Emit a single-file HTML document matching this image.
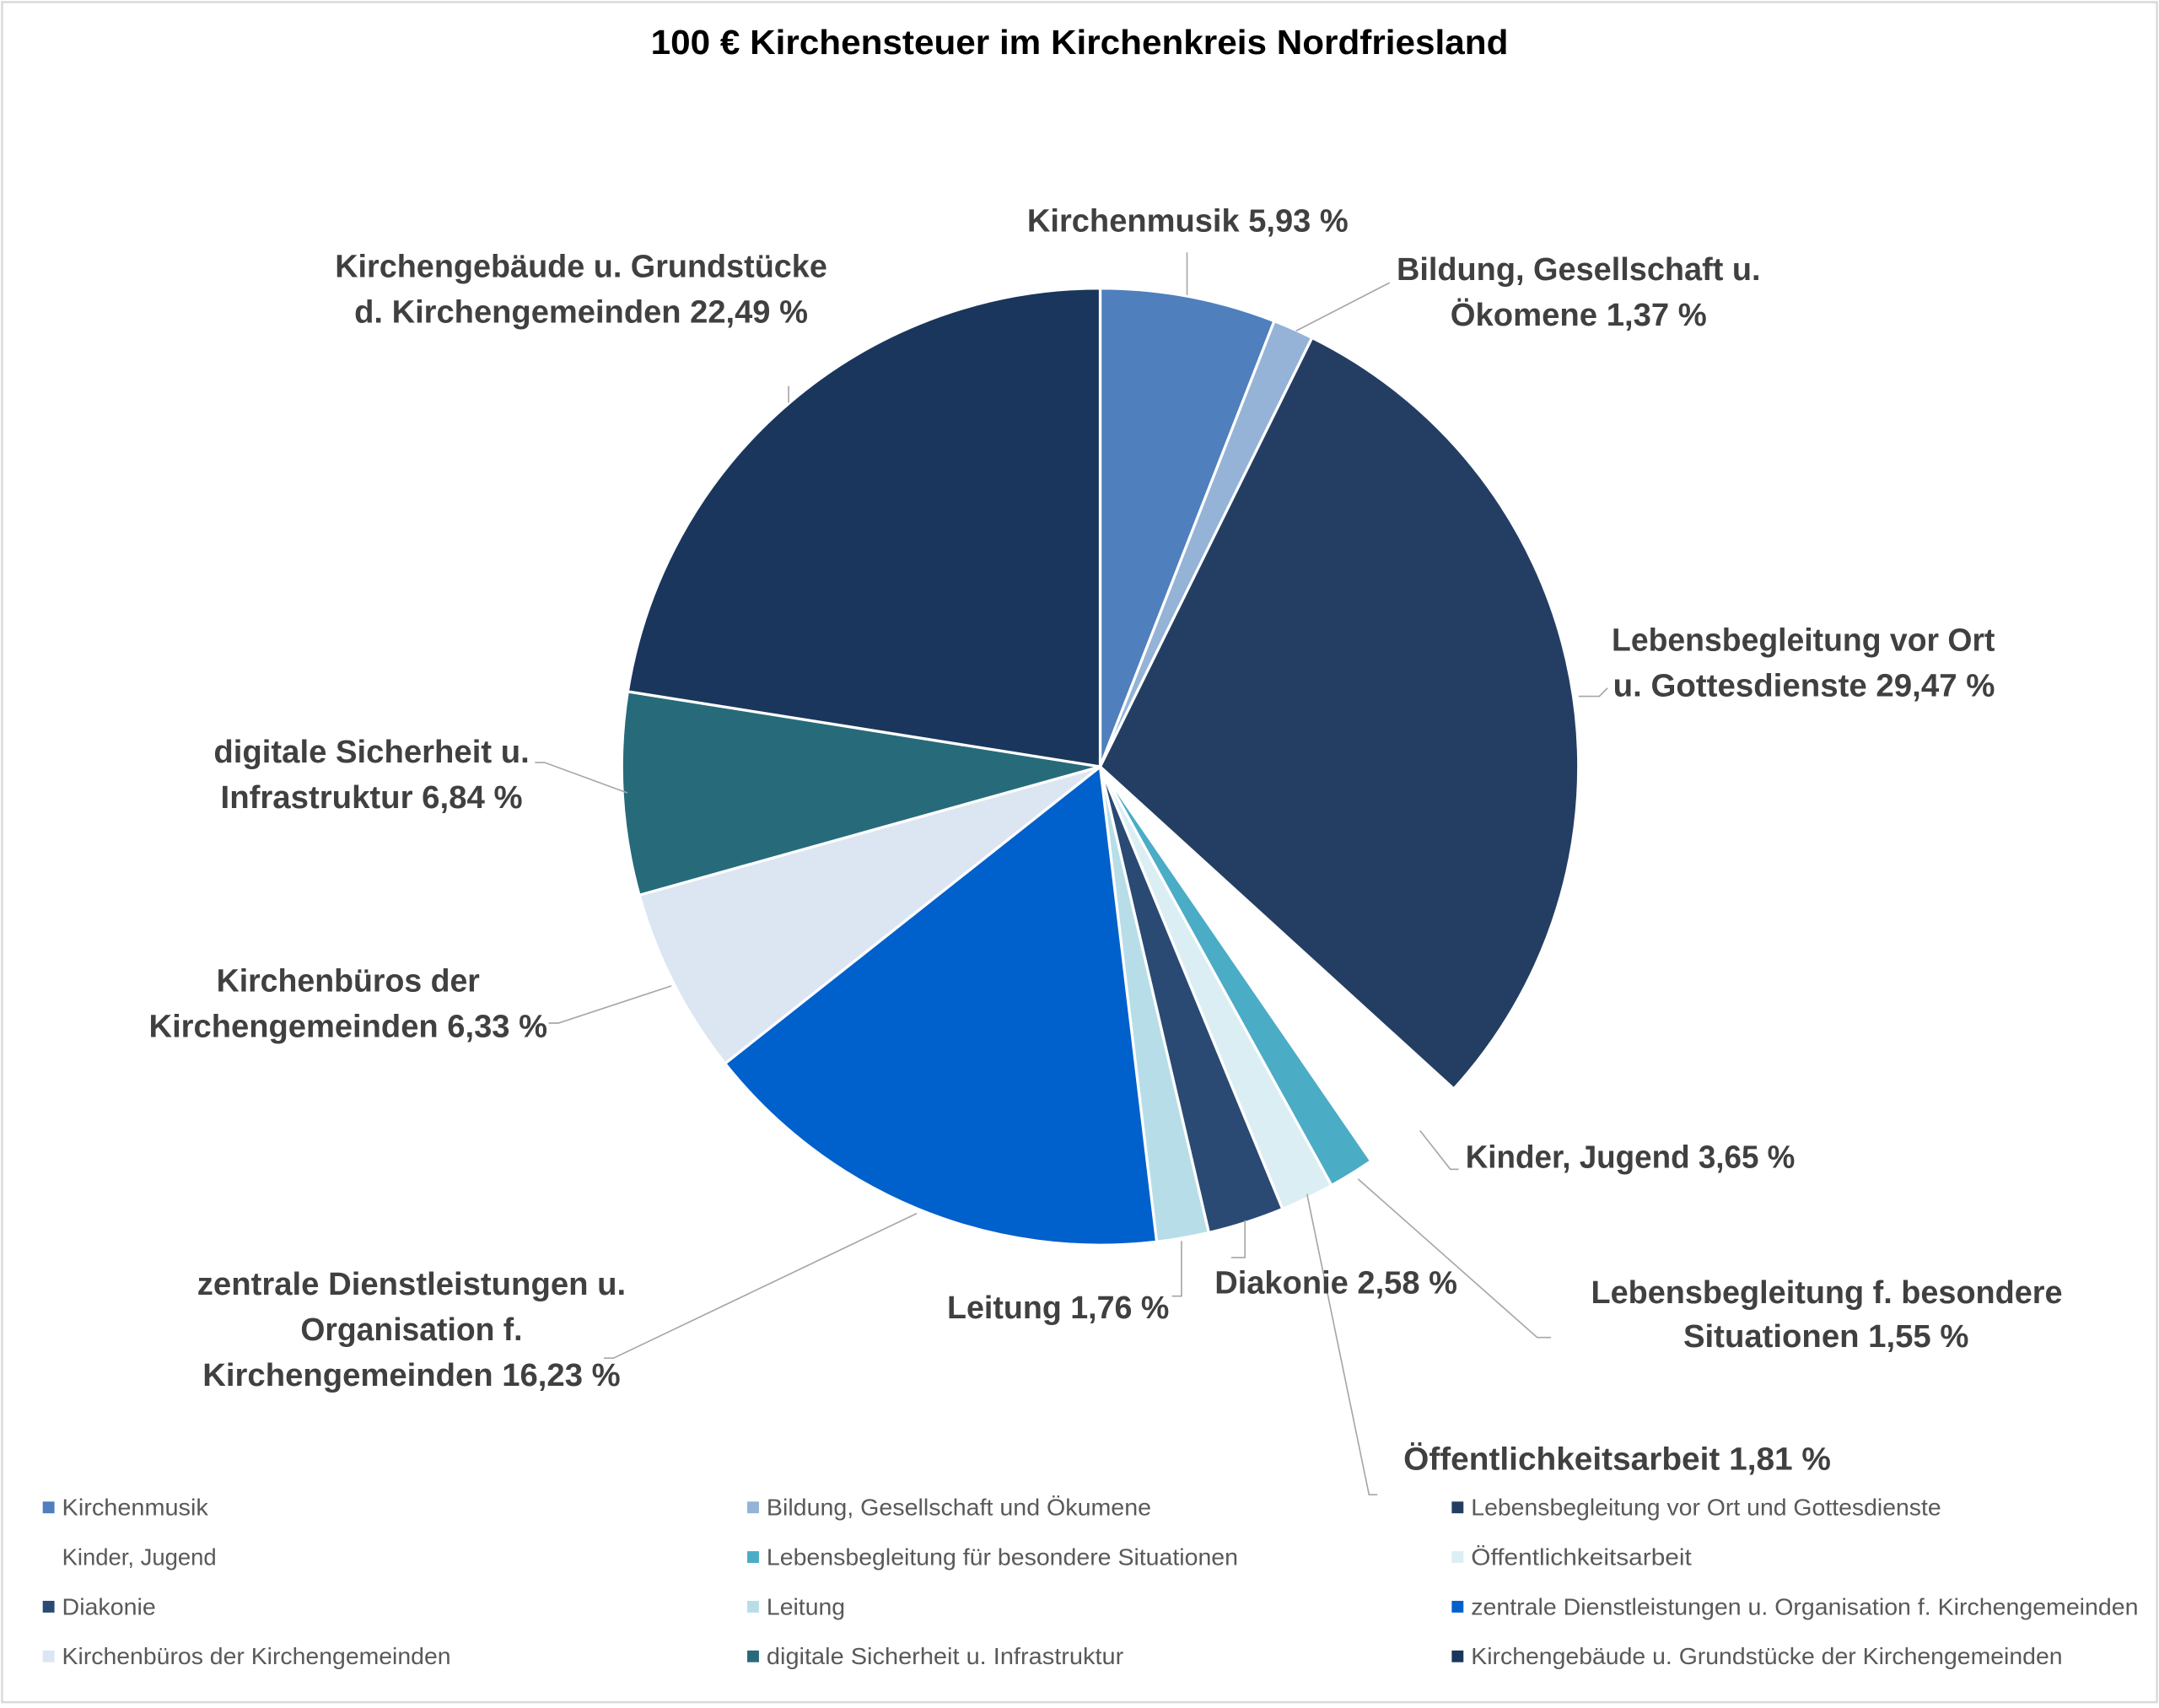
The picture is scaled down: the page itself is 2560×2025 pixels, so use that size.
<!DOCTYPE html>
<html><head><meta charset="utf-8"><style>
html,body{margin:0;padding:0;background:#fff;}
svg{display:block;}
text{font-family:"Liberation Sans Narrow","Liberation Sans",sans-serif;}
.l{font-size:23px;font-weight:bold;fill:#404040;}
.g{font-size:17px;fill:#595959;}
.ld{stroke:#a6a6a6;stroke-width:1;fill:none;}
.pie path{stroke:#fff;stroke-width:2;stroke-linejoin:round;}
</style></head><body>
<svg width="2560" height="2025" viewBox="0 0 1566 1238.7" xmlns="http://www.w3.org/2000/svg">
<rect x="1.5" y="1.5" width="1563" height="1233" fill="#fff" stroke="#d9d9d9" stroke-width="1.5"/>
<text x="783" y="39" text-anchor="middle" font-size="25" font-weight="bold" fill="#000" textLength="622" lengthAdjust="spacingAndGlyphs">100 € Kirchensteuer im Kirchenkreis Nordfriesland</text>
<g class="pie">
<path d="M798 556 L798 209 A347 347 0 0 1 924.3 232.8 Z" fill="#4f7fbd"/>
<path d="M798 556 L924.3 232.8 A347 347 0 0 1 951.7 244.9 Z" fill="#95b3d7"/>
<path d="M798 556 L951.7 244.9 A347 347 0 0 1 1054.5 789.7 Z" fill="#243e63"/>
<path d="M798 556 L994.5 842.0 A347 347 0 0 1 965.8 859.7 Z" fill="#4bacc6"/>
<path d="M798 556 L965.8 859.7 A347 347 0 0 1 930.3 876.8 Z" fill="#dbeef4"/>
<path d="M798 556 L930.3 876.8 A347 347 0 0 1 876.8 894.0 Z" fill="#2a4a73"/>
<path d="M798 556 L876.8 894.0 A347 347 0 0 1 839.0 900.6 Z" fill="#b7dee8"/>
<path d="M798 556 L839.0 900.6 A347 347 0 0 1 525.9 771.3 Z" fill="#0060cc"/>
<path d="M798 556 L525.9 771.3 A347 347 0 0 1 463.7 649.2 Z" fill="#dce6f2"/>
<path d="M798 556 L463.7 649.2 A347 347 0 0 1 455.3 501.5 Z" fill="#276b7b"/>
<path d="M798 556 L455.3 501.5 A347 347 0 0 1 798 209 Z" fill="#1a365d"/>
</g>
<g>
<path class="ld" d="M861 214 V183"/>
<path class="ld" d="M940 240 L1008 205"/>
<path class="ld" d="M1145 505 H1160 L1166 499"/>
<path class="ld" d="M1030 820 L1052 848 H1058"/>
<path class="ld" d="M985 855 L1115 970 H1125"/>
<path class="ld" d="M948 866 L993 1084 H999"/>
<path class="ld" d="M903 885 V912 H893"/>
<path class="ld" d="M857 900 V940 H850"/>
<path class="ld" d="M665 880 L445 985 H438"/>
<path class="ld" d="M487 715 L405 742 H398"/>
<path class="ld" d="M455 575 L395 553 H388"/>
<path class="ld" d="M572 292 V280"/>
</g>
<g class="l">
<text x="745" y="168" textLength="233" lengthAdjust="spacingAndGlyphs">Kirchenmusik 5,93 %</text>
<text x="1013" y="203" textLength="264" lengthAdjust="spacingAndGlyphs">Bildung, Gesellschaft u.</text>
<text x="1052" y="236" textLength="186" lengthAdjust="spacingAndGlyphs">Ökomene 1,37 %</text>
<text x="1169" y="472" textLength="278" lengthAdjust="spacingAndGlyphs">Lebensbegleitung vor Ort</text>
<text x="1170" y="505" textLength="277" lengthAdjust="spacingAndGlyphs">u. Gottesdienste 29,47 %</text>
<text x="1063" y="847" textLength="239" lengthAdjust="spacingAndGlyphs">Kinder, Jugend 3,65 %</text>
<text x="1154" y="945" textLength="342" lengthAdjust="spacingAndGlyphs">Lebensbegleitung f. besondere</text>
<text x="1221" y="977" textLength="207" lengthAdjust="spacingAndGlyphs">Situationen 1,55 %</text>
<text x="1018" y="1066" textLength="310" lengthAdjust="spacingAndGlyphs">Öffentlichkeitsarbeit 1,81 %</text>
<text x="881" y="938" textLength="176" lengthAdjust="spacingAndGlyphs">Diakonie 2,58 %</text>
<text x="687" y="956" textLength="161" lengthAdjust="spacingAndGlyphs">Leitung 1,76 %</text>
<text x="143" y="939" textLength="311" lengthAdjust="spacingAndGlyphs">zentrale Dienstleistungen u.</text>
<text x="218" y="972" textLength="161" lengthAdjust="spacingAndGlyphs">Organisation f.</text>
<text x="147" y="1005" textLength="303" lengthAdjust="spacingAndGlyphs">Kirchengemeinden 16,23 %</text>
<text x="157" y="719" textLength="191" lengthAdjust="spacingAndGlyphs">Kirchenbüros der</text>
<text x="108" y="752" textLength="289" lengthAdjust="spacingAndGlyphs">Kirchengemeinden 6,33 %</text>
<text x="155" y="553" textLength="229" lengthAdjust="spacingAndGlyphs">digitale Sicherheit u.</text>
<text x="160" y="586" textLength="219" lengthAdjust="spacingAndGlyphs">Infrastruktur 6,84 %</text>
<text x="243" y="201" textLength="357" lengthAdjust="spacingAndGlyphs">Kirchengebäude u. Grundstücke</text>
<text x="257" y="234" textLength="329" lengthAdjust="spacingAndGlyphs">d. Kirchengemeinden 22,49 %</text>
</g>
<g>
<rect x="31" y="1089" width="8.5" height="8.5" fill="#4f7fbd"/>
<rect x="542" y="1089" width="8.5" height="8.5" fill="#95b3d7"/>
<rect x="1053" y="1089" width="8.5" height="8.5" fill="#243e63"/>
<rect x="542" y="1125" width="8.5" height="8.5" fill="#4bacc6"/>
<rect x="1053" y="1125" width="8.5" height="8.5" fill="#dbeef4"/>
<rect x="31" y="1161" width="8.5" height="8.5" fill="#2a4a73"/>
<rect x="542" y="1161" width="8.5" height="8.5" fill="#b7dee8"/>
<rect x="1053" y="1161" width="8.5" height="8.5" fill="#0060cc"/>
<rect x="31" y="1197" width="8.5" height="8.5" fill="#dce6f2"/>
<rect x="542" y="1197" width="8.5" height="8.5" fill="#276b7b"/>
<rect x="1053" y="1197" width="8.5" height="8.5" fill="#1a365d"/>
</g>
<g class="g">
<text x="45" y="1099" textLength="106" lengthAdjust="spacingAndGlyphs">Kirchenmusik</text>
<text x="556" y="1099" textLength="279" lengthAdjust="spacingAndGlyphs">Bildung, Gesellschaft und Ökumene</text>
<text x="1067" y="1099" textLength="341" lengthAdjust="spacingAndGlyphs">Lebensbegleitung vor Ort und Gottesdienste</text>
<text x="45" y="1135" textLength="112" lengthAdjust="spacingAndGlyphs">Kinder, Jugend</text>
<text x="556" y="1135" textLength="342" lengthAdjust="spacingAndGlyphs">Lebensbegleitung für besondere Situationen</text>
<text x="1067" y="1135" textLength="160" lengthAdjust="spacingAndGlyphs">Öffentlichkeitsarbeit</text>
<text x="45" y="1171" textLength="68" lengthAdjust="spacingAndGlyphs">Diakonie</text>
<text x="556" y="1171" textLength="57" lengthAdjust="spacingAndGlyphs">Leitung</text>
<text x="1067" y="1171" textLength="484" lengthAdjust="spacingAndGlyphs">zentrale Dienstleistungen u. Organisation f. Kirchengemeinden</text>
<text x="45" y="1207" textLength="282" lengthAdjust="spacingAndGlyphs">Kirchenbüros der Kirchengemeinden</text>
<text x="556" y="1207" textLength="259" lengthAdjust="spacingAndGlyphs">digitale Sicherheit u. Infrastruktur</text>
<text x="1067" y="1207" textLength="429" lengthAdjust="spacingAndGlyphs">Kirchengebäude u. Grundstücke der Kirchengemeinden</text>
</g>
</svg>
</body></html>
